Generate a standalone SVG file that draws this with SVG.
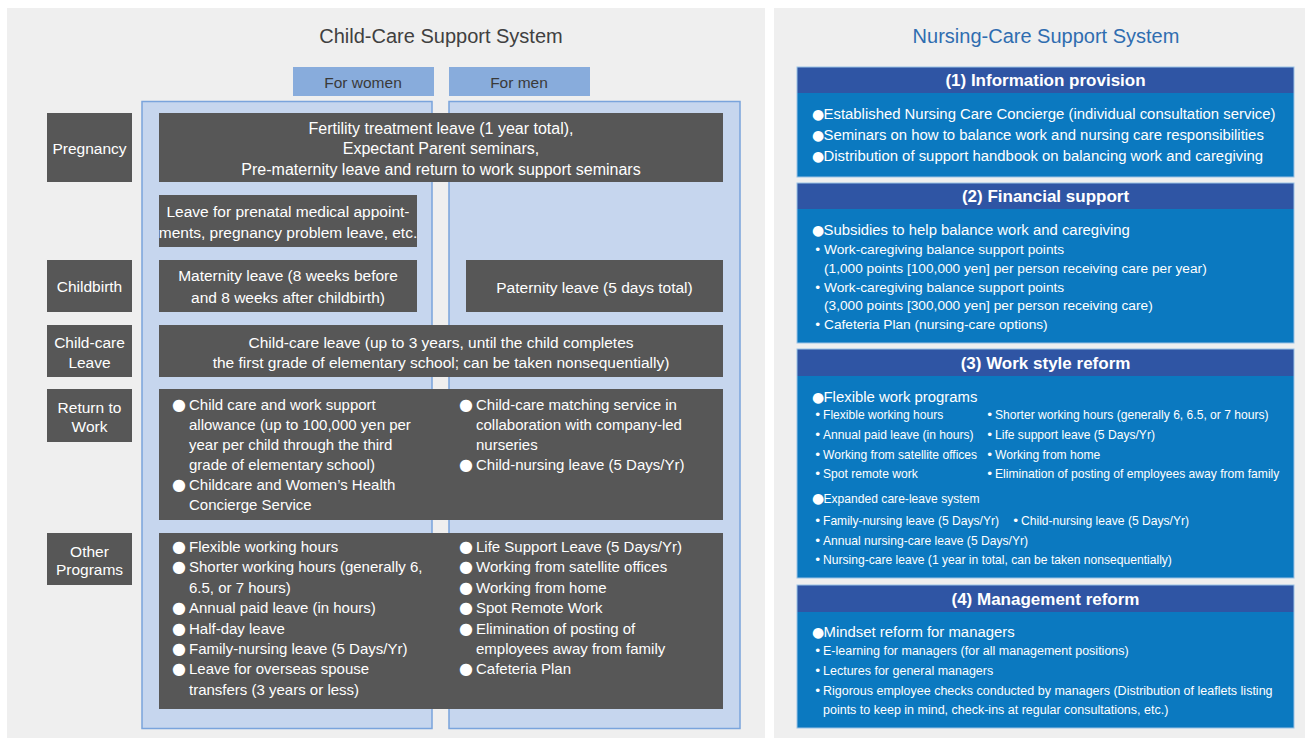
<svg xmlns="http://www.w3.org/2000/svg" width="1313" height="742" viewBox="0 0 1313 742">
<style>
text{font-family:"Liberation Sans",Arial,Helvetica,sans-serif}
.panel{fill:#efefef}
.col{fill:#c6d6ee;stroke:#7aa4dc;stroke-width:1.5}
.colhead{fill:#88acdc}
.dark{fill:#575757}
.title{font-size:20px;text-anchor:middle}
.ch{font-size:15.5px;fill:#3a3a3a;text-anchor:middle}
.lbl{font-size:15.5px;fill:#fff;text-anchor:middle}
.ctr{font-size:15.5px;fill:#fff;text-anchor:middle}
.big{font-size:16px}
.bl{font-size:15px;fill:#fff}
.bd{font-family:"DejaVu Sans",sans-serif;font-size:16px}
.hdr{fill:#2f55a4}
.body{fill:#0b79c0}
.frame{fill:none;stroke:#9cc3e6;stroke-width:1}
.h{font-size:17px;font-weight:bold;fill:#fff;text-anchor:middle}
.b1{font-size:14.9px;fill:#fff}
.b2{font-size:13.7px;fill:#fff}
.b3{font-size:12.1px;fill:#fff}
.b4{font-size:12.5px;fill:#fff}
.bb{font-family:"DejaVu Sans",sans-serif;font-size:14px}
.sb{font-family:"DejaVu Sans",sans-serif;font-size:12.5px}
</style>
<rect width="1313" height="742" fill="#ffffff"/>
<g id="child-care-panel">
<rect class="panel" x="7" y="8" width="758" height="730"/>
<text class="title" x="441" y="43" fill="#404040">Child-Care Support System</text>
</g>
<g id="col-women">
<rect class="colhead" x="293" y="67" width="141" height="29"/>
<text class="ch" x="363" y="87.5">For women</text>
<rect class="col" x="142" y="101.5" width="290" height="627"/>
</g>
<g id="col-men">
<rect class="colhead" x="449" y="67" width="141" height="29"/>
<text class="ch" x="519" y="87.5">For men</text>
<rect class="col" x="449" y="101.5" width="291" height="627"/>
</g>
<g id="label-pregnancy">
<rect class="dark" x="47" y="113" width="85" height="69"/>
<text class="lbl" x="89.5" y="153.5">Pregnancy</text>
</g>
<g id="pregnancy-programs">
<rect class="dark" x="159" y="113" width="564" height="69"/>
<text class="ctr big" x="441" y="133.5">Fertility treatment leave (1 year total),</text>
<text class="ctr big" x="441" y="153.5">Expectant Parent seminars,</text>
<text class="ctr big" x="441" y="174.5">Pre-maternity leave and return to work support seminars</text>
</g>
<g id="prenatal-leave">
<rect class="dark" x="159" y="195" width="258" height="52"/>
<text class="ctr" x="288" y="216.5">Leave for prenatal medical appoint-</text>
<text class="ctr" x="288" y="237.5">ments, pregnancy problem leave, etc.</text>
</g>
<g id="label-childbirth">
<rect class="dark" x="47" y="260" width="85" height="52"/>
<text class="lbl" x="89.5" y="291.5">Childbirth</text>
</g>
<g id="maternity-leave">
<rect class="dark" x="159" y="260" width="258" height="52"/>
<text class="ctr" x="288" y="280.5">Maternity leave (8 weeks before</text>
<text class="ctr" x="288" y="302.5">and 8 weeks after childbirth)</text>
</g>
<g id="paternity-leave">
<rect class="dark" x="466" y="260" width="257" height="52"/>
<text class="ctr" x="594.5" y="292.5">Paternity leave (5 days total)</text>
</g>
<g id="label-childcare-leave">
<rect class="dark" x="47" y="325" width="85" height="52"/>
<text class="lbl" x="89.5" y="347.5">Child-care</text>
<text class="lbl" x="89.5" y="367.5">Leave</text>
</g>
<g id="childcare-leave">
<rect class="dark" x="159" y="325" width="564" height="52"/>
<text class="ctr" x="441" y="347.5">Child-care leave (up to 3 years, until the child completes</text>
<text class="ctr" x="441" y="367.5">the first grade of elementary school; can be taken nonsequentially)</text>
</g>
<g id="label-return">
<rect class="dark" x="47" y="389" width="85" height="53"/>
<text class="lbl" x="89.5" y="412.5">Return to</text>
<text class="lbl" x="89.5" y="431.5">Work</text>
</g>
<g id="return-programs">
<rect class="dark" x="159" y="389" width="564" height="131"/>
<text class="bl" y="409.5"><tspan class="bd" x="172">●</tspan><tspan x="189">Child care and work support</tspan></text>
<text class="bl" x="189" y="429.5">allowance (up to 100,000 yen per</text>
<text class="bl" x="189" y="449.5">year per child through the third</text>
<text class="bl" x="189" y="469.5">grade of elementary school)</text>
<text class="bl" y="490"><tspan class="bd" x="172">●</tspan><tspan x="189">Childcare and Women’s Health</tspan></text>
<text class="bl" x="189" y="510">Concierge Service</text>
<text class="bl" y="409.5"><tspan class="bd" x="459">●</tspan><tspan x="476">Child-care matching service in</tspan></text>
<text class="bl" x="476" y="429.5">collaboration with company-led</text>
<text class="bl" x="476" y="449.5">nurseries</text>
<text class="bl" y="469.5"><tspan class="bd" x="459">●</tspan><tspan x="476">Child-nursing leave (5 Days/Yr)</tspan></text>
</g>
<g id="label-other">
<rect class="dark" x="47" y="533" width="85" height="52"/>
<text class="lbl" x="89.5" y="556.5">Other</text>
<text class="lbl" x="89.5" y="574.5">Programs</text>
</g>
<g id="other-programs">
<rect class="dark" x="159" y="533" width="564" height="176"/>
<text class="bl" y="552"><tspan class="bd" x="172">●</tspan><tspan x="189">Flexible working hours</tspan></text>
<text class="bl" y="572.4"><tspan class="bd" x="172">●</tspan><tspan x="189">Shorter working hours (generally 6,</tspan></text>
<text class="bl" x="189" y="592.8">6.5, or 7 hours)</text>
<text class="bl" y="613.2"><tspan class="bd" x="172">●</tspan><tspan x="189">Annual paid leave (in hours)</tspan></text>
<text class="bl" y="633.6"><tspan class="bd" x="172">●</tspan><tspan x="189">Half-day leave</tspan></text>
<text class="bl" y="654"><tspan class="bd" x="172">●</tspan><tspan x="189">Family-nursing leave (5 Days/Yr)</tspan></text>
<text class="bl" y="674.4"><tspan class="bd" x="172">●</tspan><tspan x="189">Leave for overseas spouse</tspan></text>
<text class="bl" x="189" y="694.8">transfers (3 years or less)</text>
<text class="bl" y="552"><tspan class="bd" x="459">●</tspan><tspan x="476">Life Support Leave (5 Days/Yr)</tspan></text>
<text class="bl" y="572.4"><tspan class="bd" x="459">●</tspan><tspan x="476">Working from satellite offices</tspan></text>
<text class="bl" y="592.8"><tspan class="bd" x="459">●</tspan><tspan x="476">Working from home</tspan></text>
<text class="bl" y="613.2"><tspan class="bd" x="459">●</tspan><tspan x="476">Spot Remote Work</tspan></text>
<text class="bl" y="633.6"><tspan class="bd" x="459">●</tspan><tspan x="476">Elimination of posting of</tspan></text>
<text class="bl" x="476" y="654">employees away from family</text>
<text class="bl" y="674.4"><tspan class="bd" x="459">●</tspan><tspan x="476">Cafeteria Plan</tspan></text>
</g>
<g id="nursing-care-panel">
<rect class="panel" x="774" y="8" width="531" height="730"/>
<text class="title" x="1046" y="43" fill="#2f6db0">Nursing-Care Support System</text>
</g>
<g id="info-provision">
<rect class="hdr" x="797" y="67" width="497" height="26"/>
<rect class="body" x="797" y="93" width="497" height="84"/>
<rect class="frame" x="797" y="67" width="497" height="110"/>
<text class="h" x="1045.5" y="86">(1) Information provision</text>
<text class="b1" y="119"><tspan class="bb" x="812">●</tspan><tspan x="823.5">Established Nursing Care Concierge (individual consultation service)</tspan></text>
<text class="b1" y="140"><tspan class="bb" x="812">●</tspan><tspan x="823.5">Seminars on how to balance work and nursing care responsibilities</tspan></text>
<text class="b1" y="161"><tspan class="bb" x="812">●</tspan><tspan x="823.5">Distribution of support handbook on balancing work and caregiving</tspan></text>
</g>
<g id="financial-support">
<rect class="hdr" x="797" y="183" width="497" height="26"/>
<rect class="body" x="797" y="209" width="497" height="134"/>
<rect class="frame" x="797" y="183" width="497" height="160"/>
<text class="h" x="1045.5" y="202">(2) Financial support</text>
<text class="b1" y="235"><tspan class="bb" x="812">●</tspan><tspan x="823.5">Subsidies to help balance work and caregiving</tspan></text>
<text class="b2" y="253.5"><tspan class="sb" x="814">•</tspan><tspan x="824">Work-caregiving balance support points</tspan></text>
<text class="b2" x="824" y="272.5">(1,000 points [100,000 yen] per person receiving care per year)</text>
<text class="b2" y="291.5"><tspan class="sb" x="814">•</tspan><tspan x="824">Work-caregiving balance support points</tspan></text>
<text class="b2" x="824" y="309.5">(3,000 points [300,000 yen] per person receiving care)</text>
<text class="b2" y="328.5"><tspan class="sb" x="814">•</tspan><tspan x="824">Cafeteria Plan (nursing-care options)</tspan></text>
</g>
<g id="work-style-reform">
<rect class="hdr" x="797" y="349" width="497" height="27"/>
<rect class="body" x="797" y="376" width="497" height="202"/>
<rect class="frame" x="797" y="349" width="497" height="229"/>
<text class="h" x="1045.5" y="369">(3) Work style reform</text>
<text class="b1" y="402"><tspan class="bb" x="812">●</tspan><tspan x="823.5">Flexible work programs</tspan></text>
<text class="b3" y="419.3"><tspan class="sb" x="814">•</tspan><tspan x="823">Flexible working hours</tspan><tspan class="sb" x="986">•</tspan><tspan x="995">Shorter working hours (generally 6, 6.5, or 7 hours)</tspan></text>
<text class="b3" y="439.3"><tspan class="sb" x="814">•</tspan><tspan x="823">Annual paid leave (in hours)</tspan><tspan class="sb" x="986">•</tspan><tspan x="995">Life support leave (5 Days/Yr)</tspan></text>
<text class="b3" y="459.3"><tspan class="sb" x="814">•</tspan><tspan x="823">Working from satellite offices</tspan><tspan class="sb" x="986">•</tspan><tspan x="995">Working from home</tspan></text>
<text class="b3" y="478.3"><tspan class="sb" x="814">•</tspan><tspan x="823">Spot remote work</tspan><tspan class="sb" x="986">•</tspan><tspan x="995">Elimination of posting of employees away from family</tspan></text>
<text class="b3" y="502.5"><tspan class="bb" x="812">●</tspan><tspan x="823.5">Expanded care-leave system</tspan></text>
<text class="b3" y="525.3"><tspan class="sb" x="814">•</tspan><tspan x="823">Family-nursing leave (5 Days/Yr)</tspan><tspan class="sb" x="1012">•</tspan><tspan x="1021">Child-nursing leave (5 Days/Yr)</tspan></text>
<text class="b3" y="545.3"><tspan class="sb" x="814">•</tspan><tspan x="823">Annual nursing-care leave (5 Days/Yr)</tspan></text>
<text class="b3" y="564.3"><tspan class="sb" x="814">•</tspan><tspan x="823">Nursing-care leave (1 year in total, can be taken nonsequentially)</tspan></text>
</g>
<g id="management-reform">
<rect class="hdr" x="797" y="585" width="497" height="27"/>
<rect class="body" x="797" y="612" width="497" height="116"/>
<rect class="frame" x="797" y="585" width="497" height="143"/>
<text class="h" x="1045.5" y="605">(4) Management reform</text>
<text class="b1" y="637"><tspan class="bb" x="812">●</tspan><tspan x="823.5">Mindset reform for managers</tspan></text>
<text class="b4" y="655.3"><tspan class="sb" x="814">•</tspan><tspan x="823">E-learning for managers (for all management positions)</tspan></text>
<text class="b4" y="675.3"><tspan class="sb" x="814">•</tspan><tspan x="823">Lectures for general managers</tspan></text>
<text class="b4" y="695.3"><tspan class="sb" x="814">•</tspan><tspan x="823">Rigorous employee checks conducted by managers (Distribution of leaflets listing</tspan></text>
<text class="b4" x="823" y="714.3">points to keep in mind, check-ins at regular consultations, etc.)</text>
</g>
<g id="connectors"></g>
</svg>
